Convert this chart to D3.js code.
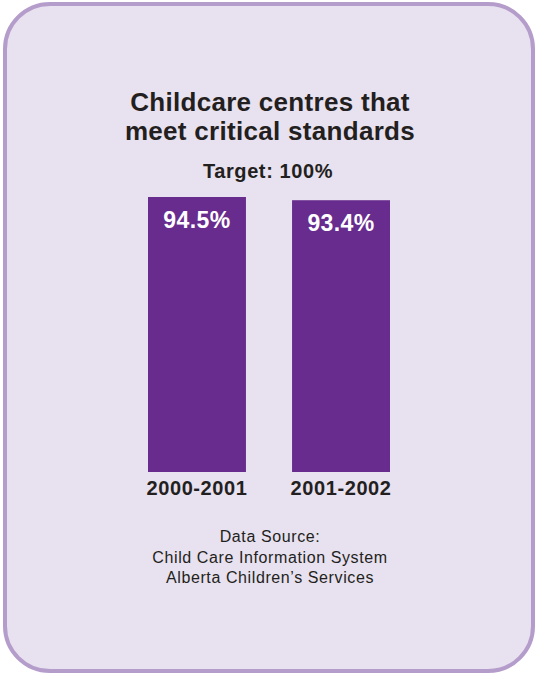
<!DOCTYPE html>
<html>
<head>
<meta charset="utf-8">
<script src="https://cdn.jsdelivr.net/npm/d3@7"></script>
<style>
  html, body { margin: 0; padding: 0; background: #ffffff; }
  svg { display: block; }
</style>
</head>
<body>
<div id="chart"></div>
<script>
// Chart data
const years = ['2000-2001', '2001-2002'];
const values = [94.5, 93.4];
const titleLines = ['Childcare centres that', 'meet critical standards'];
const targetLabel = 'Target: 100%';
const sourceLines = ['Data Source:', 'Child Care Information System', 'Alberta Children\u2019s Services'];

// Colours
const panel_fill = '#E8E1EF';
const panel_stroke = '#B59DCB';
const bar_color = '#682C8F';
const text_color = '#231F20';

const width = 537;
const height = 677;
const font = '"Liberation Sans", Arial, Helvetica, sans-serif';

const svg = d3.select('#chart').append('svg')
    .attr('width', width)
    .attr('height', height);

// Rounded panel behind everything
svg.append('rect')
    .attr('x', 5)
    .attr('y', 4)
    .attr('width', 528)
    .attr('height', 667)
    .attr('rx', 45)
    .attr('ry', 45)
    .attr('fill', panel_fill)
    .attr('stroke', panel_stroke)
    .attr('stroke-width', 4);

// Scales
const xScale = d3.scaleBand()
    .domain(years)
    .range([148, 390])
    .paddingInner(0.32)
    .paddingOuter(0);

const yScale = d3.scaleLinear()
    .domain([0, 100])
    .range([472, 181]);

// Title
svg.append('text')
    .attr('x', 270)
    .attr('y', 111)
    .attr('text-anchor', 'middle')
    .style('font-family', font)
    .style('font-weight', 'bold')
    .style('font-size', '26px')
    .style('letter-spacing', '0.3px')
    .attr('fill', text_color)
    .selectAll('tspan')
    .data(titleLines)
    .enter().append('tspan')
    .attr('x', 270)
    .attr('dy', (d, i) => i === 0 ? 0 : 29)
    .text(d => d);

// Target line of text
svg.append('text')
    .attr('x', 268)
    .attr('y', 178)
    .attr('text-anchor', 'middle')
    .style('font-family', font)
    .style('font-weight', 'bold')
    .style('font-size', '20px')
    .style('letter-spacing', '0.6px')
    .attr('fill', text_color)
    .text(targetLabel);

const data = years.map((y, i) => ({ year: y, value: values[i] }));

// Bars
svg.selectAll('.bar')
    .data(data)
    .enter().append('rect')
    .attr('class', 'bar')
    .attr('x', d => xScale(d.year))
    .attr('y', d => yScale(d.value))
    .attr('width', xScale.bandwidth())
    .attr('height', d => yScale(0) - yScale(d.value))
    .attr('fill', bar_color);

// Value labels inside bars
svg.selectAll('.value-label')
    .data(data)
    .enter().append('text')
    .attr('class', 'value-label')
    .attr('x', d => xScale(d.year) + xScale.bandwidth() / 2)
    .attr('y', d => yScale(d.value) + 31)
    .attr('text-anchor', 'middle')
    .style('font-family', font)
    .style('font-weight', 'bold')
    .style('font-size', '23px')
    .style('letter-spacing', '0.4px')
    .attr('fill', '#ffffff')
    .text(d => d.value.toFixed(1) + '%');

// Category axis (labels only)
const xAxis = svg.append('g')
    .attr('transform', `translate(0, ${yScale(0)})`)
    .call(d3.axisBottom(xScale).tickSize(0).tickPadding(0));
xAxis.select('.domain').remove();
xAxis.selectAll('text')
    .attr('dy', 0)
    .attr('y', 23)
    .style('font-family', font)
    .style('font-weight', 'bold')
    .style('font-size', '20px')
    .style('letter-spacing', '0.6px')
    .attr('fill', text_color);

// Data source note
svg.append('text')
    .attr('text-anchor', 'middle')
    .style('font-family', font)
    .style('font-size', '16px')
    .style('letter-spacing', '0.6px')
    .attr('fill', text_color)
    .selectAll('tspan')
    .data(sourceLines)
    .enter().append('tspan')
    .attr('x', 270)
    .attr('y', (d, i) => 542 + i * 20.5)
    .text(d => d);
</script>
</body>
</html>
